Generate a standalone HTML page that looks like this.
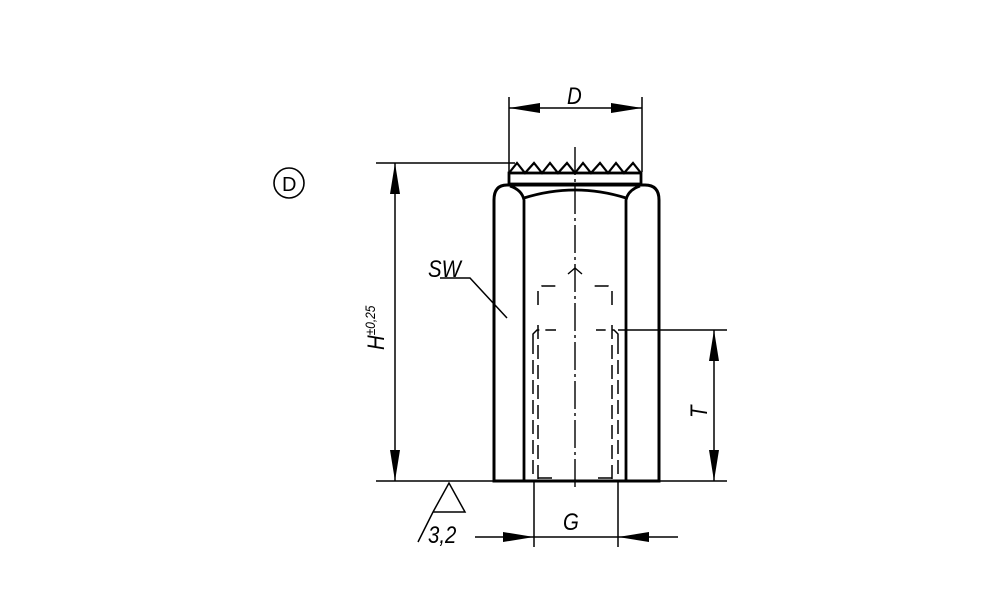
<!DOCTYPE html>
<html><head><style>body{margin:0;background:#fff}svg{display:block}text{font-family:"Liberation Sans",sans-serif;font-style:italic}</style></head>
<body>
<svg width="1000" height="611" viewBox="0 0 1000 611" xmlns="http://www.w3.org/2000/svg">
<g fill="none" stroke="#000">
<circle cx="289" cy="183" r="15" stroke-width="1.6"/>
<path d="M494 481 V200 Q494 185 507 185 H645 Q659 185 659 200 V481 Z" stroke-width="3"/>
<path d="M524 481 V200 Q522 190 510 186 M626 481 V200 Q628 190 640 186 M524 198 Q575 182 626 198" stroke-width="2.8"/>
<rect x="509" y="173" width="132" height="11" stroke-width="2.8"/>
<polyline points="509,173 517,163 525,173 534,163 542,173 550,163 558,173 567,163 575,173 583,163 591,173 600,163 608,173 616,163 624,173 633,163 641,173" stroke-width="2.2"/>
<path d="M575 147 V488" stroke-width="1.4" stroke-dasharray="28,4,3,4"/>
<g stroke-width="1.5" stroke-dasharray="14,6">
<path d="M538 325 V480 M612 325 V480 M533 340 V480 M618 340 V480"/>
<path d="M538 305 V290 L542 286 H558 M612 305 V290 L608 286 H592"/>
<path d="M533 340 V334 L537 330 H556 M618 340 V334 L614 330 H596"/>
<path d="M538 478 H558 M612 478 H593"/>
</g>
<path d="M568 274 L575 268 L582 274" stroke-width="1.4"/>
<path d="M509 97 V172 M642 97 V172 M509 108 H642" stroke-width="1.5"/>
<path d="M376 163 H515 M376 481 H494 M395 163 V481" stroke-width="1.5"/>
<path d="M618 330 H727 M659 481 H727 M714 330 V481" stroke-width="1.5"/>
<path d="M534 481 V547 M618 481 V547 M475 537 H678" stroke-width="1.5"/>
<path d="M440 278 H470 L507 318" stroke-width="1.5"/>
<path d="M433 512 L449 483 L465 512 H433 L418 542" stroke-width="1.5"/>
</g>
<g fill="#000">
<polygon points="509,108 540,103 540,113"/>
<polygon points="642,108 611,103 611,113"/>
<polygon points="395,163 390,194 400,194"/>
<polygon points="395,481 390,450 400,450"/>
<polygon points="714,330 709,361 719,361"/>
<polygon points="714,481 709,450 719,450"/>
<polygon points="534,537 503,532 503,542"/>
<polygon points="618,537 649,532 649,542"/>
</g>
<g font-size="24" fill="#000">
<text transform="translate(567,104) scale(0.85,1)">D</text>
<text transform="translate(428,277) scale(0.85,1)">SW</text>
<text transform="translate(563,530) scale(0.85,1)">G</text>
<text transform="translate(428,543) scale(0.85,1)">3,2</text>
<text transform="translate(707,418) rotate(-90) scale(0.85,1)">T</text>
<text transform="translate(384,350) rotate(-90) scale(0.85,1)">H<tspan font-size="14" dy="-9">±0,25</tspan></text>
<text x="282" y="191" style="font-style:normal" font-size="20">D</text>
</g>
</svg>
</body></html>
